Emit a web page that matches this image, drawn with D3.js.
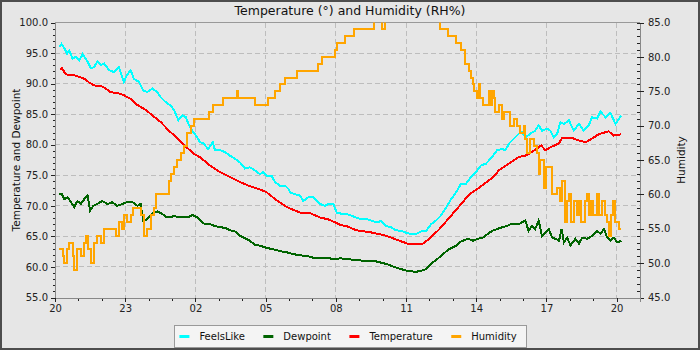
<!DOCTYPE html>
<html><head><meta charset="utf-8">
<script src="https://cdn.jsdelivr.net/npm/d3@7"></script>
<style>
html,body{margin:0;padding:0;background:#e6e6e6;}
svg{display:block;font-family:"DejaVu Sans",sans-serif;}
</style></head><body>
<svg id="chart" width="700" height="350"></svg>
<script>
const chartTitle = "Temperature (°) and Humidity (RH%)";
const leftAxisTitle = "Temperature and Dewpoint";
const rightAxisTitle = "Humidity";
const seriesNames = ["FeelsLike", "Dewpoint", "Temperature", "Humidity"];
const seriesColors = ["#00ffff", "#006400", "#ff0000", "#ffa500"];
// x values: hours elapsed since 20:00 of the first day
const xDomain = [0, 25];
const xTickHours = [0, 3, 6, 9, 12, 15, 18, 21, 24];
const xTickLabels = ["20", "23", "02", "05", "08", "11", "14", "17", "20"];
const leftDomain = [55, 100];
const leftTicks = [55, 60, 65, 70, 75, 80, 85, 90, 95, 100];
const rightDomain = [45, 85];
const rightTicks = [45, 50, 55, 60, 65, 70, 75, 80, 85];

const feelsLike = [[0.19,96.0],[0.28,96.5],[0.40,95.8],[0.51,94.9],[0.61,95.4],[0.75,94.1],[0.90,94.4],[1.04,93.8],[1.18,94.8],[1.39,93.6],[1.53,92.5],[1.67,92.7],[1.81,93.6],[1.96,93.0],[2.10,93.3],[2.31,92.2],[2.52,91.9],[2.73,92.7],[2.94,90.3],[3.08,91.4],[3.23,92.2],[3.37,90.8],[3.58,90.3],[3.77,88.9],[3.94,88.6],[4.16,89.2],[4.37,88.6],[4.51,87.8],[4.72,87.0],[4.94,86.4],[5.10,85.6],[5.27,84.0],[5.45,84.8],[5.59,84.5],[5.73,83.2],[5.87,82.3],[6.08,81.2],[6.20,80.4],[6.34,80.2],[6.55,79.3],[6.74,80.4],[6.84,79.1],[7.06,79.1],[7.27,78.8],[7.48,78.2],[7.69,77.7],[7.91,77.1],[8.12,76.1],[8.33,76.3],[8.54,75.8],[8.75,75.2],[8.90,75.5],[9.05,74.9],[9.26,74.9],[9.40,73.9],[9.61,73.3],[9.83,73.3],[9.97,72.8],[10.05,72.2],[10.26,71.9],[10.47,71.7],[10.61,70.8],[10.82,71.4],[11.05,71.4],[11.19,70.8],[11.33,70.3],[11.54,70.0],[11.68,70.3],[11.89,70.3],[12.04,68.9],[12.25,68.7],[12.43,68.7],[12.65,68.4],[12.86,68.1],[13.08,67.8],[13.29,67.9],[13.50,67.6],[13.72,67.3],[13.93,67.5],[14.14,66.7],[14.35,66.5],[14.56,66.0],[14.79,65.9],[15.00,65.6],[15.22,65.4],[15.43,65.4],[15.65,65.8],[15.86,65.9],[16.07,67.0],[16.28,67.6],[16.49,68.4],[16.71,69.7],[16.93,71.1],[17.14,72.2],[17.35,73.6],[17.56,73.6],[17.78,74.7],[17.99,75.5],[18.20,76.6],[18.42,76.9],[18.68,78.0],[18.89,79.1],[19.11,79.3],[19.25,79.1],[19.40,80.2],[19.61,81.0],[19.82,81.8],[19.96,82.1],[20.10,81.2],[20.31,81.8],[20.52,82.3],[20.67,83.2],[20.81,82.3],[21.03,82.6],[21.17,82.3],[21.32,81.2],[21.46,81.8],[21.60,83.7],[21.75,83.4],[21.96,84.0],[22.17,82.3],[22.39,83.4],[22.60,82.3],[22.81,83.2],[22.95,84.5],[23.17,84.3],[23.31,85.4],[23.53,84.5],[23.74,85.2],[23.95,83.4],[24.20,84.8]];

const dewpoint = [[0.19,72.0],[0.28,72.0],[0.40,71.1],[0.54,71.4],[0.68,70.6],[0.82,69.8],[0.96,70.8],[1.11,70.3],[1.25,71.1],[1.39,71.7],[1.50,69.2],[1.64,70.0],[1.81,70.3],[2.02,70.8],[2.24,70.3],[2.45,70.6],[2.66,70.0],[2.87,70.3],[3.08,70.6],[3.31,70.6],[3.52,70.0],[3.66,70.3],[3.77,67.6],[3.94,67.8],[4.16,68.8],[4.37,69.1],[4.58,68.7],[4.79,68.1],[5.09,68.3],[5.38,68.1],[5.66,68.1],[5.87,68.5],[6.08,68.1],[6.20,67.6],[6.41,67.0],[6.62,67.0],[6.84,66.7],[7.06,66.5],[7.27,66.4],[7.48,66.0],[7.69,65.8],[7.91,65.1],[8.12,64.7],[8.33,64.3],[8.54,63.6],[8.75,63.5],[8.98,63.2],[9.19,63.0],[9.40,62.8],[9.61,62.6],[9.90,62.4],[10.19,62.1],[10.47,61.9],[10.76,61.8],[11.05,61.5],[11.33,61.4],[11.61,61.5],[11.89,61.3],[12.18,61.4],[12.52,61.3],[12.87,61.1],[13.29,61.0],[13.73,60.9],[14.15,60.5],[14.57,59.9],[15.00,59.4],[15.43,59.2],[15.79,59.5],[16.14,60.7],[16.50,61.8],[16.79,62.8],[17.15,63.5],[17.36,64.2],[17.65,64.6],[17.86,64.3],[18.07,64.6],[18.28,64.8],[18.49,65.4],[18.68,65.9],[18.89,66.2],[19.11,66.5],[19.32,66.7],[19.54,67.1],[19.82,67.0],[20.10,67.6],[20.24,65.9],[20.38,66.7],[20.52,66.2],[20.67,67.6],[20.81,65.1],[20.95,65.6],[21.10,66.2],[21.25,64.8],[21.39,64.6],[21.54,64.3],[21.65,66.2],[21.75,64.0],[21.89,64.8],[22.03,63.5],[22.24,64.6],[22.39,63.8],[22.53,64.8],[22.74,64.6],[22.95,65.1],[23.17,65.9],[23.31,65.4],[23.46,66.2],[23.60,64.8],[23.74,64.3],[23.88,64.8],[24.02,64.0],[24.20,64.3]];

const temperature = [[0.21,92.3],[0.30,92.5],[0.46,91.5],[0.81,91.4],[1.10,91.0],[1.31,90.7],[1.45,90.2],[1.67,89.7],[1.96,89.6],[2.17,89.2],[2.38,88.6],[2.73,88.4],[2.94,88.1],[3.24,87.5],[3.52,86.5],[3.88,85.7],[4.16,84.8],[4.52,83.7],[4.87,82.3],[5.24,81.0],[5.59,79.7],[5.94,78.5],[6.22,77.9],[6.62,76.6],[7.06,75.5],[7.48,74.7],[7.91,73.9],[8.33,73.2],[8.75,72.7],[9.05,72.2],[9.47,70.9],[9.90,69.8],[10.47,68.9],[10.90,68.8],[11.33,68.1],[11.75,67.7],[12.18,66.9],[12.52,66.6],[12.87,66.0],[13.59,65.6],[14.15,65.1],[14.71,64.3],[15.08,63.8],[15.72,63.8],[16.00,64.6],[16.43,66.2],[16.86,68.1],[17.29,70.0],[17.71,71.9],[18.14,73.0],[18.76,74.8],[18.96,75.8],[19.40,76.9],[19.82,78.0],[20.10,78.2],[20.38,78.8],[20.78,79.9],[20.95,79.1],[21.24,79.7],[21.53,80.2],[21.67,81.1],[22.10,81.1],[22.39,80.7],[22.67,80.4],[22.95,81.0],[23.23,81.7],[23.66,82.2],[23.87,81.5],[24.20,81.7]];

const humidity = [[0.19,52],[0.33,51],[0.40,50],[0.51,52],[0.61,53],[0.75,51],[0.82,49],[0.96,52],[1.11,51],[1.25,53],[1.34,54],[1.43,52],[1.53,50],[1.67,53],[1.81,54],[1.96,53],[2.10,55],[2.59,54],[2.73,56],[2.87,55],[2.94,57],[3.08,56],[3.24,57],[3.35,58],[3.69,57],[3.80,54],[3.94,55],[4.09,57],[4.23,58],[4.30,60],[4.87,62],[4.97,63],[5.10,64],[5.21,65],[5.38,66],[5.52,67],[5.66,69],[5.80,70],[5.94,71],[6.56,72],[6.77,73],[7.20,74],[7.77,75],[7.83,74],[8.54,73],[9.12,74],[9.40,75],[9.61,76],[9.83,77],[10.33,78],[11.26,79],[11.43,80],[11.98,81],[12.07,82],[12.39,83],[12.79,84],[13.64,86],[13.97,84],[14.11,86],[16.46,84],[16.78,83],[17.15,82],[17.36,81],[17.50,80],[17.54,79],[17.71,78],[17.78,77],[17.86,76],[17.92,75],[18.04,74],[18.11,76],[18.18,74],[18.28,73],[18.56,75],[18.63,73],[18.68,75],[18.75,74],[18.82,72],[18.96,73],[19.11,71],[19.18,72],[19.46,70],[19.61,71],[19.75,70],[19.89,69],[20.03,70],[20.10,68],[20.17,66],[20.31,68],[20.46,67],[20.60,66],[20.67,63],[20.74,65],[20.89,61],[20.99,64],[21.24,60],[21.46,61],[21.60,59],[21.67,62],[21.78,56],[21.88,59],[21.98,60],[22.06,56],[22.16,59],[22.30,57],[22.40,59],[22.48,56],[22.65,59],[22.73,60],[22.82,57],[22.91,59],[23.01,57],[23.16,60],[23.26,57],[23.37,59],[23.49,57],[23.59,56],[23.66,54],[23.77,57],[23.83,59],[23.94,56],[24.12,55],[24.20,55]];

const W = 700, H = 350;
const plot = {left: 55, right: 640, top: 22.5, bottom: 297.5};
const svg = d3.select("#chart");

svg.append("rect").attr("x",0).attr("y",0).attr("width",W).attr("height",H).attr("fill","#e6e6e6");

const x = d3.scaleLinear().domain(xDomain).range([plot.left, plot.right]);
const yL = d3.scaleLinear().domain(leftDomain).range([plot.bottom, plot.top]);
const yR = d3.scaleLinear().domain(rightDomain).range([plot.bottom, plot.top]);

// grid
const grid = svg.append("g").attr("stroke","#bdbdbd").attr("stroke-width",1).attr("stroke-dasharray","5,3").attr("shape-rendering","crispEdges");
grid.selectAll("line.h").data(leftTicks.filter(d=>d>leftDomain[0]&&d<leftDomain[1])).join("line")
  .attr("x1",plot.left).attr("x2",plot.right).attr("y1",d=>yL(d)).attr("y2",d=>yL(d));
grid.selectAll("line.v").data(xTickHours.filter(d=>d>xDomain[0])).join("line")
  .attr("y1",plot.top).attr("y2",plot.bottom).attr("x1",d=>x(d)).attr("x2",d=>x(d));

// top border
svg.append("line").attr("x1",plot.left).attr("x2",plot.right).attr("y1",plot.top).attr("y2",plot.top)
  .attr("stroke","#999").attr("shape-rendering","crispEdges");

// clip
svg.append("clipPath").attr("id","clip").append("rect")
  .attr("x",plot.left).attr("y",plot.top).attr("width",plot.right-plot.left).attr("height",plot.bottom-plot.top);

const lineL = d3.line().x(d=>x(d[0])).y(d=>yL(d[1]));
const lineR = d3.line().x(d=>x(d[0])).y(d=>yR(d[1])).curve(d3.curveStepAfter);
const lines = svg.append("g").attr("clip-path","url(#clip)").attr("fill","none").attr("stroke-width",2)
  .attr("stroke-linejoin","miter").attr("shape-rendering","crispEdges");
lines.append("path").datum(feelsLike).attr("d",lineL).attr("stroke",seriesColors[0]);
lines.append("path").datum(dewpoint).attr("d",lineL).attr("stroke",seriesColors[1]);
lines.append("path").datum(temperature).attr("d",lineL).attr("stroke",seriesColors[2]);
lines.append("path").datum(humidity).attr("d",lineR).attr("stroke",seriesColors[3]);

function styleAxis(g){
  g.select(".domain").attr("stroke","#888");
  g.selectAll(".tick line").attr("stroke","#222");
  g.selectAll(".tick text").attr("fill","#222").style("font-size","10px").style("font-family","DejaVu Sans");
  g.attr("shape-rendering","crispEdges");
}
const range1 = (a,b)=>d3.range(a,b+0.001,1);

// left axis
svg.append("g").attr("transform",`translate(${plot.left},0)`)
  .call(d3.axisLeft(yL).tickValues(range1(leftDomain[0],leftDomain[1])).tickSize(2).tickFormat(""))
  .call(styleAxis);
svg.append("g").attr("transform",`translate(${plot.left},0)`)
  .call(d3.axisLeft(yL).tickValues(leftTicks).tickSize(4).tickPadding(3).tickFormat(d3.format(".1f")))
  .call(styleAxis);
// right axis
svg.append("g").attr("transform",`translate(${plot.right},0)`)
  .call(d3.axisLeft(yR).tickValues(range1(rightDomain[0],rightDomain[1])).tickSize(3).tickFormat(""))
  .call(g=>g.select(".domain").remove()).call(styleAxis);
svg.append("g").attr("transform",`translate(${plot.right},0)`)
  .call(d3.axisRight(yR).tickValues(rightTicks).tickSize(4).tickPadding(4).tickFormat(d3.format(".1f")))
  .call(styleAxis);
// bottom axis
svg.append("g").attr("transform",`translate(0,${plot.bottom})`)
  .call(d3.axisBottom(x).tickValues(range1(0,24)).tickSize(3).tickFormat(""))
  .call(styleAxis);
svg.append("g").attr("transform",`translate(0,${plot.bottom})`)
  .call(d3.axisBottom(x).tickValues(xTickHours).tickSize(4).tickPadding(3).tickFormat((d,i)=>xTickLabels[i]))
  .call(styleAxis);

// titles
svg.append("text").attr("x",350).attr("y",15).attr("text-anchor","middle")
  .style("font-size","12.5px").attr("fill","#111").text(chartTitle);
svg.append("text").attr("transform",`translate(20,${(plot.top+plot.bottom)/2}) rotate(-90)`)
  .attr("text-anchor","middle").style("font-size","10.5px").attr("fill","#111").text(leftAxisTitle);
svg.append("text").attr("transform",`translate(685,${(plot.top+plot.bottom)/2}) rotate(-90)`)
  .attr("text-anchor","middle").style("font-size","10.5px").attr("fill","#111").text(rightAxisTitle);

// legend
const lg = svg.append("g");
const lgBox = lg.append("rect").attr("fill","#f4f4f4").attr("stroke","#999").attr("shape-rendering","crispEdges");
let cx = 0;
seriesNames.forEach((name,i)=>{
  const it = lg.append("g");
  it.append("rect").attr("x",cx+5).attr("y",-1.5).attr("width",10).attr("height",3).attr("fill",seriesColors[i]);
  const t = it.append("text").attr("x",cx+25).attr("y",3.5).style("font-size","10px").attr("fill","#111").text(name);
  const w = t.node().getComputedTextLength();
  cx += 25 + w + (i<seriesNames.length-1 ? 13.5 : 9);
});
const lgW = cx, lgX = 350 - lgW/2, lgY = 336.5;
lg.attr("transform",`translate(${lgX},${lgY})`);
lgBox.attr("x",0.5).attr("y",-11).attr("width",lgW).attr("height",22);

// outer frame
svg.append("rect").attr("x",1).attr("y",1).attr("width",W-2).attr("height",H-2)
  .attr("fill","none").attr("stroke","#4d4d4d").attr("stroke-width",2);
</script>
</body></html>
